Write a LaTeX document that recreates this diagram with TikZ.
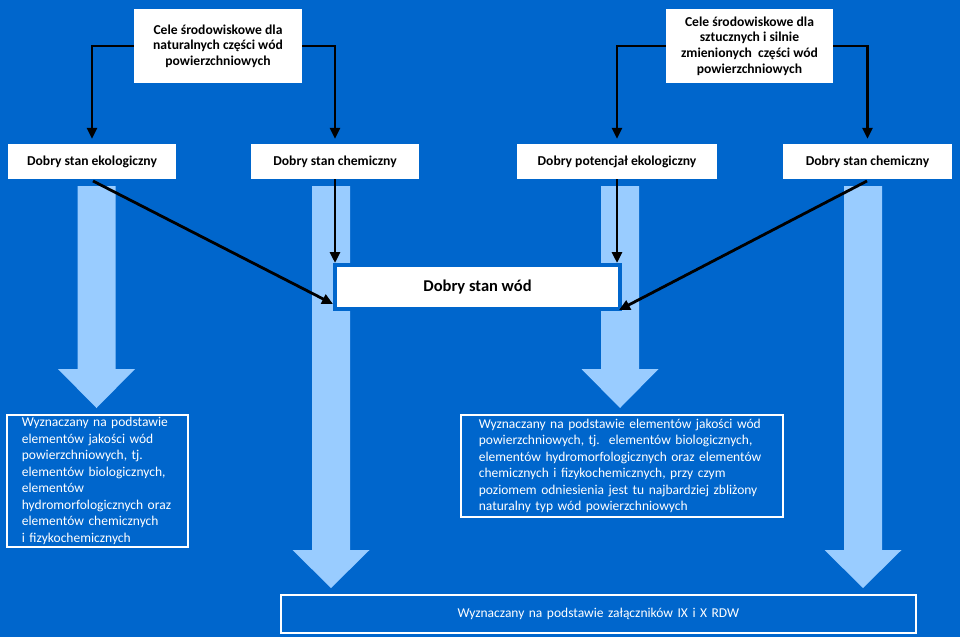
\documentclass[tikz,border=0pt]{standalone}
\usepackage{fontspec}
\setmainfont{Carlito}
\usetikzlibrary{arrows.meta}
\definecolor{bgblue}{HTML}{0066CC}
\definecolor{lblue}{HTML}{99CCFF}
\tikzset{
  topbox/.style={fill=white, draw=none, align=center, inner sep=0pt,
    font=\fontsize{13.6}{15.6}\selectfont\bfseries, text=black},
  lowbox/.style={draw=white, line width=1.8pt, fill=bgblue, text=white, inner xsep=0pt, inner ysep=0pt,
    font=\fontsize{13.5}{16.5}\selectfont},
  conn/.style={line width=2.8pt, black, -{Triangle[length=11pt,width=10pt]}},
  bigarrow/.style={fill=lblue, draw=none}
}
\begin{document}
\begin{tikzpicture}[x=1pt,y=-1pt]
\fill[bgblue] (0,0) rectangle (960,637);
\useasboundingbox (0,0) rectangle (960,637);

% light blue arrows
\fill[bigarrow] (77.5,186) -- (115.5,186) -- (115.5,369) -- (135,369) -- (96.5,408) -- (58,369) -- (77.5,369) -- cycle;
\fill[bigarrow] (312,186) -- (350,186) -- (350,550) -- (369.5,550) -- (331,588) -- (292.5,550) -- (312,550) -- cycle;
\fill[bigarrow] (601,186) -- (639,186) -- (639,369) -- (658.5,369) -- (620,408) -- (581.5,369) -- (601,369) -- cycle;
\fill[bigarrow] (844,186) -- (882,186) -- (882,550) -- (901.5,550) -- (863,588) -- (824.5,550) -- (844,550) -- cycle;

% top boxes
\node[topbox, minimum width=168pt, minimum height=74pt] (tl) at (218,46) {Cele środowiskowe dla\\naturalnych części wód\\powierzchniowych};
\node[topbox, minimum width=167pt, minimum height=74pt] (tr) at (749.5,46) {Cele środowiskowe dla\\sztucznych i silnie\\zmienionych\ \ części wód\\powierzchniowych};

% second row
\node[topbox, minimum width=168pt, minimum height=35pt] (b1) at (92,161.5) {Dobry stan ekologiczny};
\node[topbox, minimum width=168pt, minimum height=35pt] (b2) at (335,161.5) {Dobry stan chemiczny};
\node[topbox, minimum width=200pt, minimum height=35pt] (b3) at (617,161.5) {Dobry potencjał ekologiczny};
\node[topbox, minimum width=169pt, minimum height=35pt] (b4) at (867.5,161.5) {Dobry stan chemiczny};

% Dobry stan wod
\node[fill=white, draw=bgblue, line width=4pt, minimum width=285pt, minimum height=44pt, inner sep=0pt,
  font=\fontsize{16.5}{19}\selectfont\bfseries] (w) at (477.5,287) {Dobry stan wód};

% connectors top
\draw[conn, shorten >=5pt] (tl.west) -| (b1.north);
\draw[conn, shorten >=5pt] (tl.east) -| (b2.north);
\draw[conn, shorten >=5pt] (tr.west) -| (b3.north);
\draw[conn, shorten >=5pt] (tr.east) -| (b4.north);

% connectors to w
\coordinate (dl) at (333,304);
\coordinate (dr) at (619,310);
\coordinate (b1s) at (93,181);
\coordinate (b4s) at (867,181);
\draw[conn] (b1s) -- (dl);
\draw[conn] (b2.south) -- (b2.south |- w.north);
\draw[conn] (b3.south) -- (b3.south |- w.north);
\draw[conn] (b4s) -- (dr);

% lower boxes
\node[lowbox, anchor=north west, text width=181pt, minimum height=132pt, align=left] (l1) at (6,414)
 {\leftskip=15pt Wyznaczany na podstawie\\elementów jakości wód\\powierzchniowych, tj.\\elementów biologicznych,\\elementów\\hydromorfologicznych oraz\\elementów chemicznych\\i~fizykochemicznych\par};
\node[lowbox, anchor=north west, text width=322pt, minimum height=102pt, align=left] (l2) at (460,414)
 {\leftskip=18pt Wyznaczany na podstawie elementów jakości wód\\powierzchniowych, tj.\ \ elementów biologicznych,\\elementów hydromorfologicznych oraz elementów\\chemicznych i fizykochemicznych, przy czym\\poziomem odniesienia jest tu najbardziej zbliżony\\naturalny typ wód powierzchniowych\par};
\node[lowbox, anchor=north west, text width=635pt, minimum height=38pt, align=center] (l3) at (280,594)
 {Wyznaczany na podstawie załączników IX i X RDW};
\end{tikzpicture}
\end{document}
